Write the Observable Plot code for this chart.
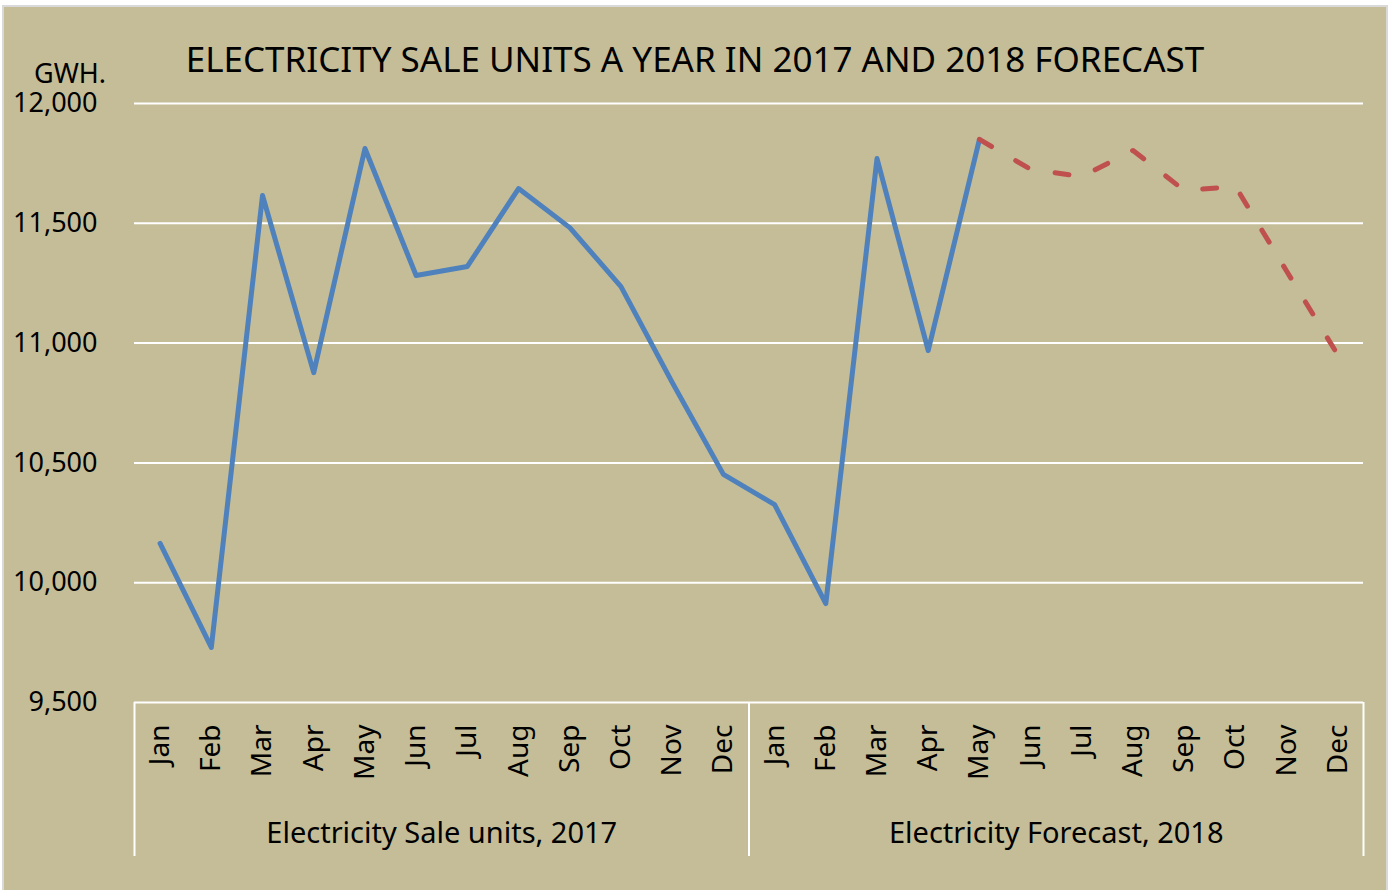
<!DOCTYPE html>
<html>
<head>
<meta charset="utf-8">
<script src="https://cdn.jsdelivr.net/npm/d3@7"></script>
<script src="https://cdn.jsdelivr.net/npm/@observablehq/plot@0.6"></script>
<style>
  html, body { margin: 0; padding: 0; background: #ffffff; }
  body { font-family: "Noto Sans", sans-serif; color: #000; }
  #wrap { position: absolute; left: 2px; top: 5px; width: 1382px; height: 885px;
          border: 2px solid #d9d9d9; border-bottom: none; background: #C4BD97; overflow: hidden; }
  #title { position: absolute; left: 0; width: 1382px; top: 34px; text-align: center;
           font-size: 35px; line-height: 1; white-space: nowrap; }
  #unit { position: absolute; left: 30px; top: 56px; font-size: 27px; line-height: 20px; height: 20px; }
  #chart { position: absolute; left: 0; top: 0; }
</style>
</head>
<body>
<div id="wrap">
  <div id="chart"></div>
  <div id="title">ELECTRICITY SALE UNITS A YEAR IN 2017 AND 2018 FORECAST</div>
  <div id="unit">GWH.</div>
</div>
<script>
// ---- data ----
const months = ["Jan","Feb","Mar","Apr","May","Jun","Jul","Aug","Sep","Oct","Nov","Dec"];
const groups = ["Electricity Sale units, 2017", "Electricity Forecast, 2018"];
const sales2017 = [10164, 9730, 11616, 10877, 11812, 11282, 11320, 11645, 11482, 11236, 10836, 10452];
const sales2018 = [10326, 9913, 11770, 10969, 11850];               // Jan–May actual
const forecast2018 = [11850, 11725, 11695, 11804, 11637, 11654, 11300, 10950]; // May–Dec forecast
const yTicks = [9500, 10000, 10500, 11000, 11500, 12000];

// ---- tables ----
const actual = [...sales2017, ...sales2018].map((v, i) => ({i, v}));
const forecastStart = 12 + sales2018.length - 1;
const forecast = forecast2018.map((v, k) => ({i: forecastStart + k, v}));
const nMonths = 24;
const groupCenters = [5.5, 17.5];
const groupEdges = [-0.5, 11.5, 23.5];

const W = 1382, H = 883;
const chart = Plot.plot({
  width: W,
  height: H,
  marginLeft: 130,
  marginRight: 23,
  marginTop: 96,
  marginBottom: 188,
  style: { background: "transparent", fontFamily: "'Noto Sans', sans-serif", color: "#000", overflow: "visible" },
  x: { type: "linear", domain: [-0.5, nMonths - 0.5] },
  y: { domain: [9500, 12000] },
  marks: [
    Plot.gridY(yTicks, { stroke: "white", strokeOpacity: 1, strokeWidth: 2 }),
    Plot.axisY(yTicks, { tickSize: 0, tickPadding: 37, tickFormat: d3.format(","), fontSize: 27, label: null, fill: "#000" }),
    Plot.axisX(d3.range(nMonths), { tickSize: 0, tickPadding: 22, tickRotate: -90, tickFormat: i => months[i % 12], fontSize: 28, label: null, fill: "#000" }),
    Plot.axisX(groupEdges, { tickSize: 154, stroke: "white", strokeWidth: 2, strokeOpacity: 1, tickFormat: () => "", label: null }),
    Plot.axisX(groupCenters, { tickSize: 0, tickPadding: 120, tickFormat: c => groups[c < 12 ? 0 : 1], fontSize: 29, label: null, fill: "#000" }),
    Plot.line(actual, { x: "i", y: "v", stroke: "#4F81BD", strokeWidth: 5, strokeLinejoin: "round", strokeLinecap: "round" }),
    Plot.line(forecast, { x: "i", y: "v", stroke: "#C0504D", strokeWidth: 5, strokeDasharray: "14,28", strokeLinecap: "round", strokeLinejoin: "round" })
  ]
});
document.getElementById("chart").appendChild(chart);
</script>
</body>
</html>
